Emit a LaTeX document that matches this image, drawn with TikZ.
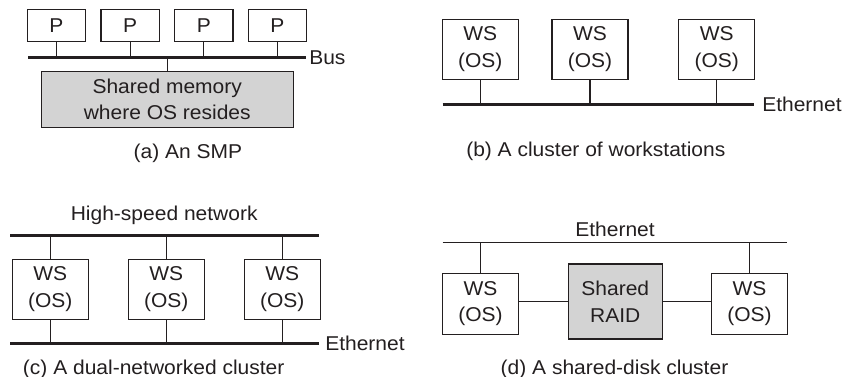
\documentclass[tikz,border=0pt]{standalone}
\usepackage{fontspec}
\setmainfont{Liberation Sans}[FakeStretch=1.05]
\definecolor{ink}{HTML}{231F20}
\definecolor{boxgray}{HTML}{D3D3D3}
\begin{document}
\begin{tikzpicture}[x=0.75pt,y=-0.75pt,
  every node/.style={font=\fontsize{15}{20}\selectfont, text=ink, align=center, inner sep=0pt},
  box/.style={draw=ink, line width=0.8pt, fill=white},
  pbox/.style={box, minimum width=58.4*0.75pt, minimum height=31.7*0.75pt},
  wsbox/.style={box, minimum width=76*0.75pt, minimum height=60.3*0.75pt},
  graybox/.style={box, fill=boxgray},
  link/.style={draw=ink, line width=0.8pt},
  busline/.style={draw=ink, line width=1.9pt},
  netline/.style={draw=ink, line width=0.9pt},
  lbl/.style={anchor=west}
]
\useasboundingbox (0,0) rectangle (843,377);

% ---------- (a) SMP ----------
\node[pbox] (p1) at (56.5,25.8) {P};
\node[pbox] (p2) at (130.2,25.8) {P};
\node[pbox] (p3) at (203.8,25.8) {P};
\node[pbox] (p4) at (277.5,25.8) {P};
\coordinate (busL) at (28,57.3);
\coordinate (busR) at (306,57.3);
\node[graybox, minimum width=252.3*0.75pt, minimum height=56.3*0.75pt] (mem) at (167.2,99.2) {Shared memory\\where OS resides};
\foreach \p in {p1,p2,p3,p4} \draw[link] (\p.south) -- (\p.south |- busL);
\draw[link] (mem.north) -- (mem.north |- busL);
\draw[busline] (busL) -- (busR);
\node[lbl] (buslbl) at (309,57.3) {Bus};
\node (capa) at (188,153) {(a) An SMP};

% ---------- (b) cluster of workstations ----------
\node[wsbox] (b1) at (480.3,49.2) {WS\\(OS)};
\node[wsbox] (b2) at (590,49.2) {WS\\(OS)};
\node[wsbox] (b3) at (716.7,49.2) {WS\\(OS)};
\coordinate (bL) at (442.7,104.3);
\coordinate (bR) at (754,104.3);
\foreach \b in {b1,b2,b3} \draw[link] (\b.south) -- (\b.south |- bL);
\draw[busline] (bL) -- (bR);
\node[lbl] (blbl) at (762,104.3) {Ethernet};
\node (capb) at (595.8,151.7) {(b) A cluster of workstations};

% ---------- (c) dual-networked cluster ----------
\node (hsn) at (164.2,215) {High-speed network};
\coordinate (cTL) at (10,235.3);
\coordinate (cTR) at (319.3,235.3);
\coordinate (cBL) at (10,343.7);
\coordinate (cBR) at (319.3,343.7);
\node[wsbox] (c1) at (50.3,289.2) {WS\\(OS)};
\node[wsbox] (c2) at (166.2,289.2) {WS\\(OS)};
\node[wsbox] (c3) at (282.2,289.2) {WS\\(OS)};
\foreach \c in {c1,c2,c3} {
  \draw[link] (\c.north) -- (\c.north |- cTL);
  \draw[link] (\c.south) -- (\c.south |- cBL);
}
\draw[busline] (cTL) -- (cTR);
\draw[busline] (cBL) -- (cBR);
\node[lbl] (clbl) at (325,343.7) {Ethernet};
\node (capc) at (153.7,369) {(c) A dual-networked cluster};

% ---------- (d) shared-disk cluster ----------
\node (dlbl) at (615,229.3) {Ethernet};
\coordinate (dL) at (442.7,242.7);
\coordinate (dR) at (786.7,242.7);
\node[wsbox, minimum width=75.6*0.75pt, minimum height=60.7*0.75pt] (d1) at (480.5,303.7) {WS\\(OS)};
\node[wsbox, minimum width=75.6*0.75pt, minimum height=60.7*0.75pt] (d2) at (749.5,303.7) {WS\\(OS)};
\node[graybox, minimum width=94*0.75pt, minimum height=75*0.75pt] (raid) at (615.3,301.5) {Shared\\RAID};
\draw[netline] (dL) -- (dR);
\draw[link] (d1.north) -- (d1.north |- dL);
\draw[link] (d2.north) -- (d2.north |- dL);
\draw[link] (d1.east |- raid.west) -- (raid.west);
\draw[link] (raid.east) -- (d2.west |- raid.east);
\node (capd) at (614.5,369) {(d) A shared-disk cluster};
\end{tikzpicture}
\end{document}
